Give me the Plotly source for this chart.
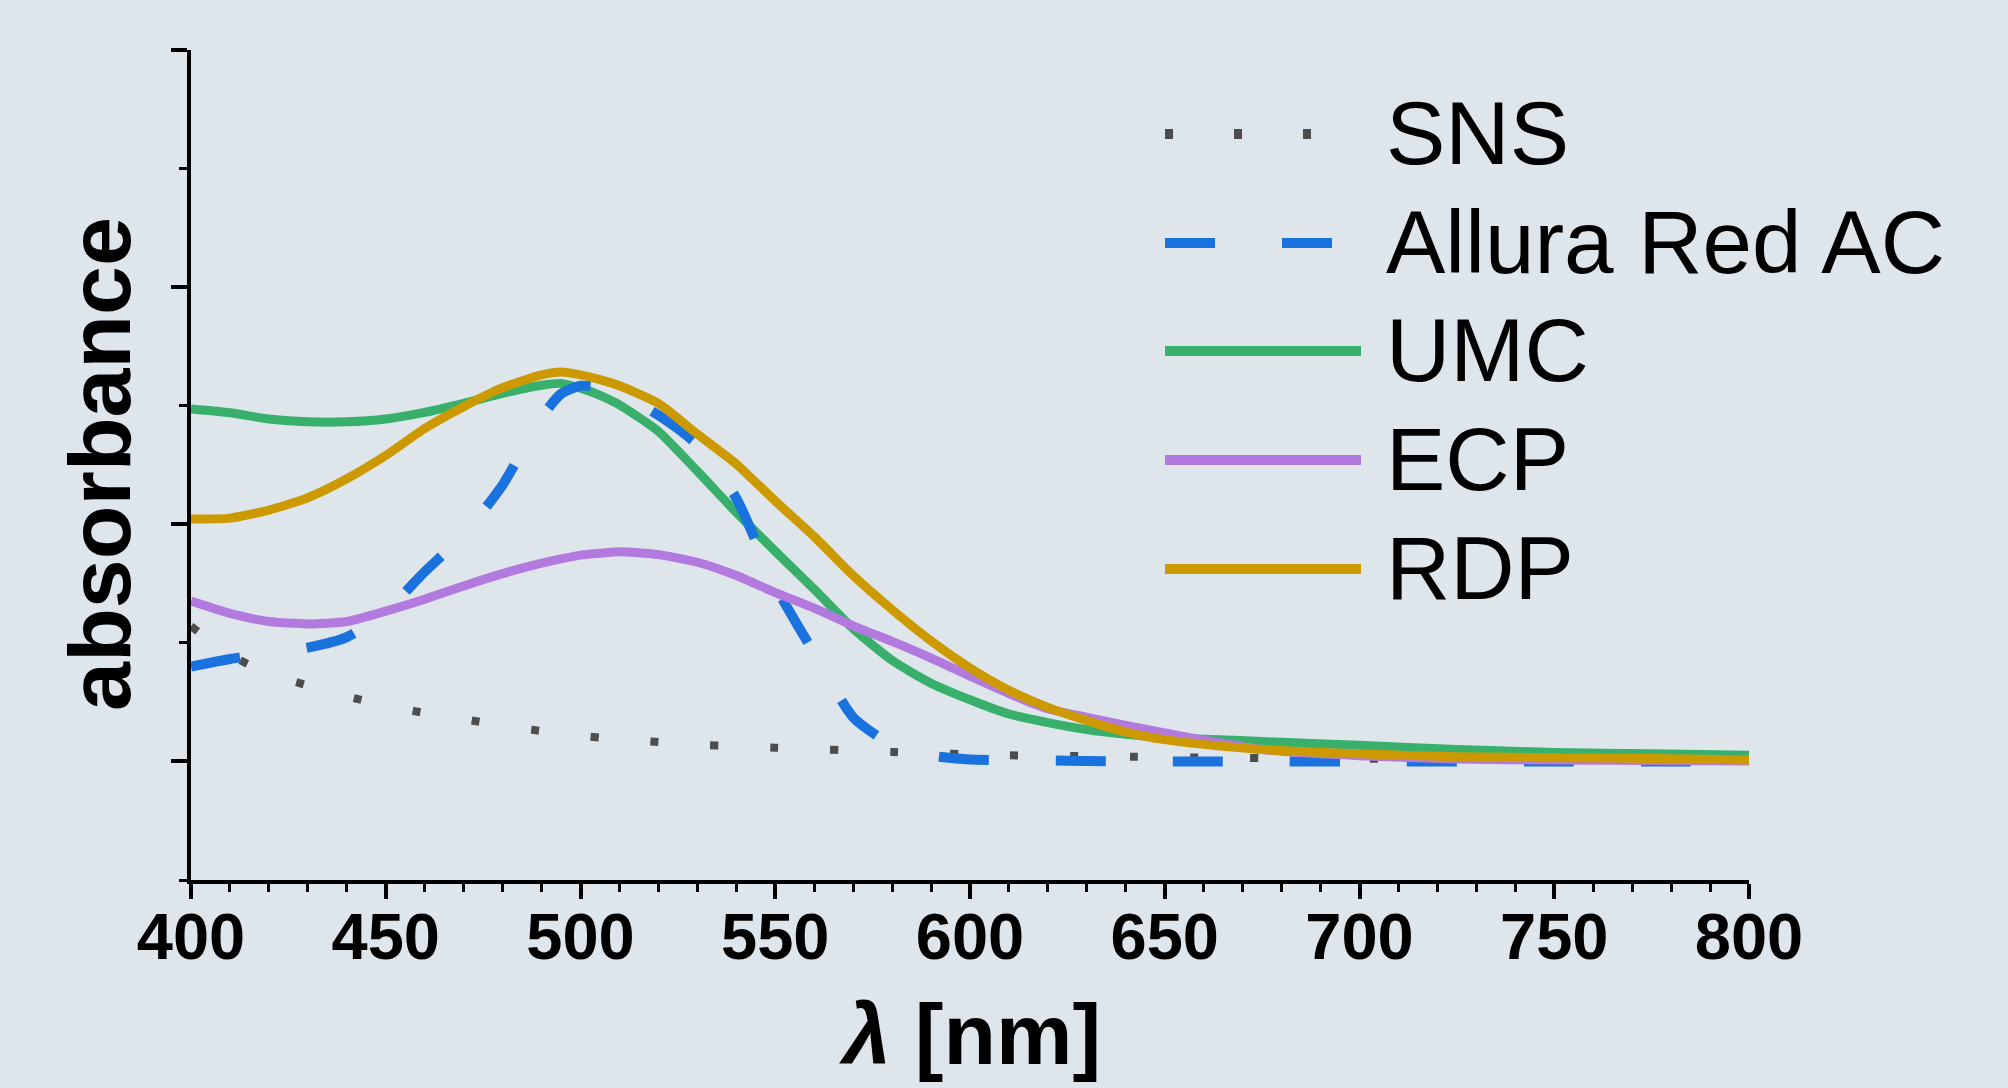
import plotly.graph_objects as go

# ---------------- data ----------------
wl = [400, 410, 420, 430, 440, 450, 460, 470, 480, 490, 495, 500, 505, 510, 520, 530,
      540, 550, 560, 570, 580, 590, 600, 610, 620, 630, 640, 650, 660, 675, 700, 725,
      750, 775, 800]

sns = [0.285, 0.225, 0.185, 0.160, 0.137, 0.118, 0.102, 0.089, 0.076, 0.064, 0.059, 0.054,
       0.050, 0.047, 0.041, 0.035, 0.032, 0.029, 0.026, 0.023, 0.020, 0.017, 0.015, 0.013,
       0.012, 0.011, 0.010, 0.009, 0.008, 0.007, 0.006, 0.005, 0.004, 0.003, 0.003]

allura = [0.200, 0.216, 0.228, 0.240, 0.262, 0.316, 0.400, 0.478, 0.583, 0.726, 0.775, 0.792,
          0.789, 0.777, 0.730, 0.668, 0.555, 0.370, 0.228, 0.093, 0.035, 0.012, 0.004, 0.003,
          0.002, 0.001, 0.000, 0.000, 0.000, 0.000, 0.000, 0.000, 0.000, 0.000, 0.000]

umc = [0.743, 0.735, 0.722, 0.716, 0.716, 0.722, 0.736, 0.755, 0.776, 0.793, 0.797, 0.787,
       0.772, 0.752, 0.696, 0.612, 0.525, 0.443, 0.363, 0.280, 0.213, 0.165, 0.130, 0.100,
       0.082, 0.067, 0.057, 0.050, 0.047, 0.042, 0.034, 0.025, 0.019, 0.016, 0.013]

ecp = [0.338, 0.312, 0.295, 0.290, 0.295, 0.317, 0.342, 0.370, 0.396, 0.418, 0.427, 0.435,
       0.439, 0.442, 0.436, 0.420, 0.392, 0.356, 0.323, 0.286, 0.253, 0.218, 0.180, 0.143,
       0.111, 0.093, 0.076, 0.060, 0.045, 0.025, 0.012, 0.005, 0.003, 0.002, 0.001]

rdp = [0.511, 0.513, 0.530, 0.556, 0.596, 0.645, 0.702, 0.748, 0.788, 0.815, 0.821, 0.815,
       0.805, 0.792, 0.755, 0.690, 0.627, 0.549, 0.474, 0.392, 0.320, 0.254, 0.197, 0.150,
       0.114, 0.086, 0.062, 0.046, 0.036, 0.025, 0.016, 0.010, 0.008, 0.006, 0.003]

names = ["SNS", "Allura Red AC", "UMC", "ECP", "RDP"]
colors = ["#4d4d4d", "#1a72de", "#38b06c", "#b27ade", "#cc9a00"]

x_ticks = [400, 450, 500, 550, 600, 650, 700, 750, 800]

BG = "#dee6eb"
FONT = "Liberation Sans, Arial, sans-serif"

series = {"SNS": sns, "Allura Red AC": allura, "UMC": umc, "ECP": ecp, "RDP": rdp}
plot_dash = {"SNS": "8px,52px", "Allura Red AC": "50px,67px", "UMC": "solid",
             "ECP": "solid", "RDP": "solid"}
legend_dash = {"SNS": "8px,61px", "Allura Red AC": "50px,67px", "UMC": "solid",
               "ECP": "solid", "RDP": "solid"}
widths = {"SNS": 8, "Allura Red AC": 10, "UMC": 9, "ECP": 9, "RDP": 9}
color_of = dict(zip(names, colors))

fig = go.Figure()
draw_order = ["SNS", "UMC", "Allura Red AC", "ECP", "RDP"]
for n in draw_order:
    fig.add_trace(go.Scatter(
        x=wl, y=series[n], mode="lines", name=n, showlegend=False,
        line=dict(color=color_of[n], width=widths[n], dash=plot_dash[n], shape="spline",
                  smoothing=0.6),
    ))

# ---------------- custom legend (long line samples) ----------------
x0_px, x1_px, xt_px = 1165, 1361, 1384
row_px = [134, 243, 351, 460, 569]
L, T, W, H = 191, 50, 1558, 830
shapes = []
annotations = []
for n, ry in zip(names, row_px):
    py = (T + H - ry) / H
    shapes.append(dict(type="line", xref="paper", yref="paper",
                       x0=(x0_px - L) / W, x1=(x1_px - L) / W, y0=py, y1=py,
                       line=dict(color=color_of[n], width=10, dash=legend_dash[n])))
    annotations.append(dict(xref="paper", yref="paper", x=(xt_px - L) / W,
                            y=(T + H - ry + 1) / H, xanchor="left", yanchor="middle",
                            text=n, showarrow=False,
                            font=dict(family=FONT, size=89, color="black")))

# axis titles as annotations
annotations.append(dict(xref="paper", yref="paper", x=(970 - L) / W, y=(T + H - 1034) / H,
                        xanchor="center", yanchor="middle", showarrow=False,
                        text="<i>λ</i> [nm]",
                        font=dict(family=FONT, size=86, color="black", weight="bold")))
annotations.append(dict(xref="paper", yref="paper", x=(100 - L) / W, y=(T + H - 464) / H,
                        xanchor="center", yanchor="middle", showarrow=False,
                        text="absorbance", textangle=-90,
                        font=dict(family=FONT, size=88, color="black", weight="bold")))

fig.update_layout(
    width=2008, height=1088,
    margin=dict(l=L, r=2008 - L - W, t=T, b=1088 - T - H),
    paper_bgcolor=BG, plot_bgcolor=BG,
    showlegend=False,
    shapes=shapes, annotations=annotations,
    xaxis=dict(range=[400, 800], tickvals=x_ticks, ticktext=[str(v) for v in x_ticks],
               showline=True, linecolor="black", linewidth=4, mirror=False,
               ticks="outside", ticklen=15, tickwidth=4, tickcolor="black",
               ticklabelstandoff=-18,
               minor=dict(dtick=10, tick0=400, ticks="outside", ticklen=8, tickwidth=3,
                          tickcolor="black", showgrid=False),
               showgrid=False, zeroline=False,
               tickfont=dict(family=FONT, size=65, color="black", weight="bold")),
    yaxis=dict(range=[-0.25, 1.5], tick0=0, dtick=0.5, showticklabels=False,
               showline=True, linecolor="black", linewidth=4,
               ticks="outside", ticklen=16, tickwidth=4, tickcolor="black",
               minor=dict(dtick=0.25, tick0=0, ticks="outside", ticklen=8, tickwidth=3,
                          tickcolor="black", showgrid=False),
               showgrid=False, zeroline=False),
)

fig.write_html("out.html", config={"displayModeBar": False},
               post_script="document.body.style.margin='0';document.body.style.background='" + BG + "';")
